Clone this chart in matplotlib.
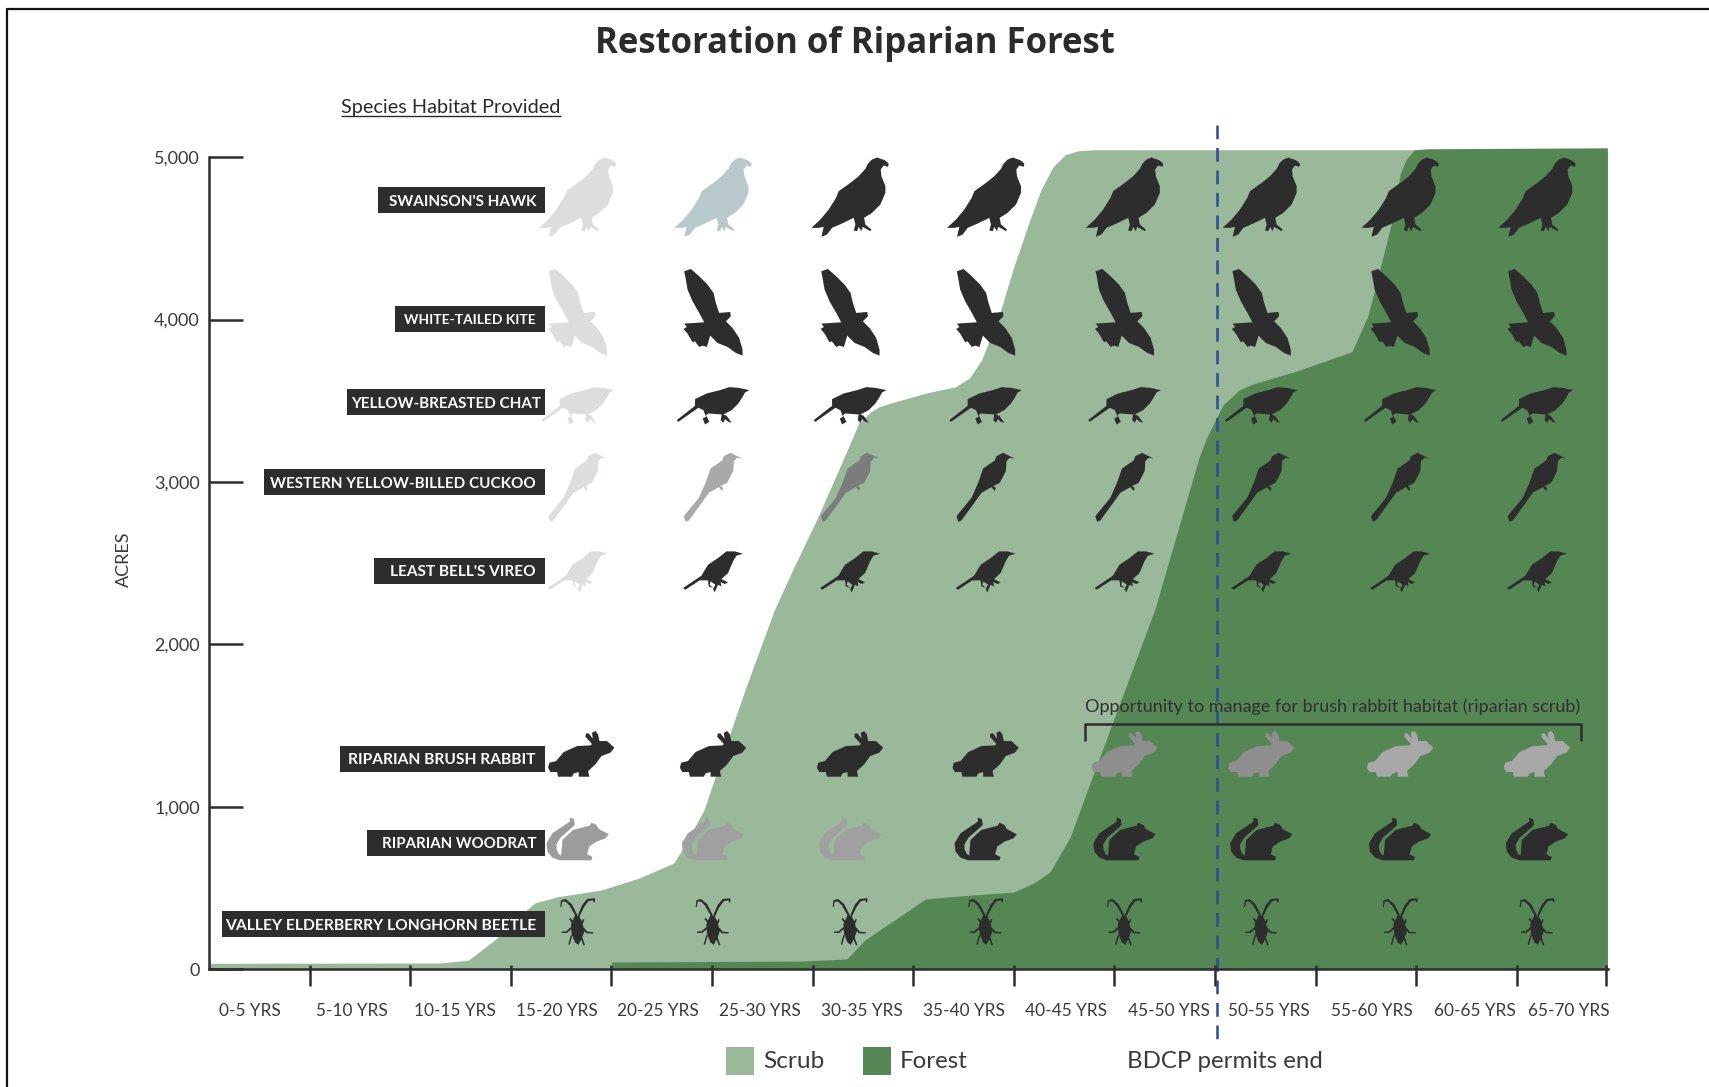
import matplotlib
matplotlib.use('Agg')
import matplotlib.pyplot as plt
import numpy as np
from matplotlib.lines import Line2D
from matplotlib.patches import Rectangle
from matplotlib.path import Path

plt.rcParams['font.family'] = ['Lato', 'DejaVu Sans']

W, H = 1709, 1087
DARK = '#2d2d2d'
TEXT = '#3a3a3a'
LIGHT = '#dcdedd'

# Data, x in years and y in acres
scrub_x = [0, 11.5, 12.9, 14.2, 15.5, 16.2, 17.3, 19.5, 21.4, 23.1, 23.6, 24.6, 25.6, 26.6, 28.1, 29.1, 30.2, 31.4,
           32.3, 32.9, 33.3, 34.1, 35.7, 37.1, 37.8, 38.4, 39.2, 40.0, 40.8, 41.35, 41.95, 42.55, 43.2, 44.0, 69.5]
scrub_y = [35, 37, 55, 179, 333, 407, 444, 487, 561, 653, 752, 980, 1344, 1706, 2212, 2483, 2767, 3105,
           3364, 3432, 3463, 3494, 3549, 3586, 3641, 3752, 4000, 4325, 4615, 4800, 4941, 5015, 5040, 5046, 5046]
forest_x = [20.0, 20.03, 29.5, 31.7, 32.6, 33.4, 34.3, 35.6, 37.3, 40.0, 41.0, 41.8, 42.8, 43.9, 45.7, 47.0, 48.1,
            49.2, 49.6, 50.4, 51.2, 51.9, 54.1, 56.8, 57.6, 58.7, 59.2, 59.5, 59.9, 60.5, 69.5]
forest_y = [0, 43, 49, 62, 179, 246, 320, 431, 450, 474, 530, 598, 813, 1183, 1781, 2212, 2680,
            3149, 3278, 3475, 3567, 3604, 3685, 3802, 4023, 4560, 4898, 4985, 5046, 5052, 5058]

x_ticks = [5, 10, 15, 20, 25, 30, 35, 40, 45, 50, 55, 60, 65, 69.45]
x_label_pos = [2.04, 7.1, 12.2, 17.3, 22.3, 27.4, 32.45, 37.5, 42.6, 47.7, 52.7, 57.8, 62.9, 67.6]
x_labels = ['0-5 YRS', '5-10 YRS', '10-15 YRS', '15-20 YRS', '20-25 YRS', '25-30 YRS', '30-35 YRS', '35-40 YRS',
            '40-45 YRS', '45-50 YRS', '50-55 YRS', '55-60 YRS', '60-65 YRS', '65-70 YRS']
y_ticks = [0, 1000, 2000, 3000, 4000, 5000]
permits_end = 50.1

columns = [18.32, 25.05, 31.86, 38.6, 45.5, 52.3, 59.2, 66.0]
rabbit_columns = [18.5, 25.05, 31.86, 38.6, 45.5, 52.3, 59.2, 66.0]

species = ["SWAINSON'S HAWK", 'WHITE-TAILED KITE', 'YELLOW-BREASTED CHAT', 'WESTERN YELLOW-BILLED CUCKOO',
           "LEAST BELL'S VIREO", 'RIPARIAN BRUSH RABBIT', 'RIPARIAN WOODRAT', 'VALLEY ELDERBERRY LONGHORN BEETLE']
species_y = [4754, 4045, 3469, 2967, 2446, 1325, 801, 290]
species_tones = [
    [LIGHT, '#b9c9cb'] + [DARK] * 6,
    [LIGHT] + [DARK] * 7,
    [LIGHT] + [DARK] * 7,
    [LIGHT, '#a9a9a9', '#7c7c7c'] + [DARK] * 5,
    [LIGHT] + [DARK] * 7,
    [DARK] * 4 + ['#8e8e8e', '#8e8e8e', '#a8a8a8', '#a8a8a8'],
    ['#9c9c9c', '#a0a0a0', '#a0a0a0'] + [DARK] * 5,
    [DARK] * 8,
]

# Label boxes in pixels: left, centre y, right end of the text, font size
box_left = [378, 395, 347, 264, 374, 340, 367, 222]
box_cy = [200, 319, 402, 482, 571, 759, 843, 924]
text_right = [536, 536, 541, 536, 536, 536, 536, 536]
text_size = [11.0, 9.9, 10.9, 11.0, 11.1, 11.2, 10.8, 11.25]

# Icon outlines, traced at 3x with y pointing down
HAWK = [[(248, 52), (250, 42), (238, 32), (215, 24), (200, 30), (188, 42), (180, 58), (160, 80), (135, 100), (100, 125),
         (92, 145), (70, 180), (45, 210), (18, 235), (40, 235), (55, 232), (48, 262), (65, 255), (80, 235), (110, 222),
         (145, 205), (150, 225), (145, 243), (155, 245), (160, 232), (168, 245), (172, 232), (195, 245), (198, 240),
         (180, 225), (176, 205), (200, 190), (225, 165), (240, 130), (240, 110), (228, 80), (226, 60), (235, 48)]]
KITE = [[(40, 35), (60, 28), (85, 50), (110, 75), (128, 100), (135, 130), (145, 160), (178, 157), (180, 170), (165, 185),
         (185, 205), (205, 235), (215, 270), (215, 288), (195, 280), (170, 262), (140, 250), (118, 228), (108, 262),
         (95, 258), (85, 262), (72, 245), (65, 248), (50, 222), (38, 208), (48, 202), (40, 192), (100, 188), (85, 160),
         (65, 125), (50, 90), (44, 55)]]
CHAT = [[(20, 135), (75, 92), (75, 72), (110, 55), (150, 45), (178, 36), (205, 38), (238, 45), (225, 52), (218, 65),
         (205, 85), (185, 105), (160, 118), (170, 122), (185, 143), (175, 140), (165, 132), (160, 143), (152, 135),
         (155, 118), (115, 115), (108, 120), (118, 140), (105, 148), (98, 130), (108, 125), (100, 105), (85, 98),
         (25, 140)]]
CUCKOO = [[(45, 232), (40, 215), (85, 160), (105, 115), (120, 72), (155, 48), (160, 35), (180, 25), (200, 35), (215, 42),
           (200, 40), (190, 50), (188, 80), (170, 115), (150, 125), (158, 130), (155, 140), (145, 128), (115, 145),
           (90, 180), (55, 228)]]
VIREO = [[(35, 145), (90, 108), (110, 75), (140, 55), (165, 35), (190, 35), (215, 42), (195, 48), (185, 65), (170, 100),
          (150, 118), (170, 128), (160, 133), (148, 127), (150, 140), (140, 135), (130, 158), (125, 148), (132, 135),
          (118, 125), (115, 135), (125, 145), (112, 140), (110, 122), (85, 122), (42, 150)]]
RABBIT = [[(62, 125), (85, 98), (125, 80), (165, 78), (170, 74), (150, 52), (152, 42), (160, 42), (172, 58), (170, 40),
           (180, 35), (188, 45), (192, 65), (215, 65), (237, 85), (225, 100), (198, 110), (180, 135), (158, 155),
           (162, 172), (130, 172), (130, 158), (115, 162), (110, 172), (68, 172), (65, 158), (45, 158), (38, 145),
           (42, 130)]]
WOODRAT = [[(100, 38), (112, 42), (115, 60), (95, 78), (72, 98), (60, 118), (60, 132), (66, 146), (74, 152), (78, 105),
            (110, 75), (160, 62), (165, 53), (180, 60), (187, 72), (217, 88), (207, 100), (180, 110), (158, 125),
            (152, 148), (168, 156), (165, 166), (70, 166), (48, 158), (33, 140), (30, 115), (48, 85), (82, 62),
            (100, 50)]]
BEETLE = [[(88, 80), (100, 80), (110, 100), (116, 128), (108, 150), (98, 168), (88, 160), (78, 135), (76, 105)],
          [(90, 82), (72, 50), (60, 38), (50, 38), (47, 55), (44, 54), (46, 34), (60, 30), (78, 45), (95, 78)],
          [(97, 78), (110, 48), (125, 30), (148, 28), (148, 40), (144, 40), (142, 34), (128, 37), (115, 55), (102, 82)],
          [(78, 100), (70, 90), (75, 87), (84, 100)],
          [(108, 100), (112, 90), (116, 92), (112, 104)],
          [(78, 120), (64, 132), (48, 132), (48, 128), (62, 127), (76, 114)],
          [(114, 115), (125, 128), (143, 130), (143, 134), (122, 133), (112, 122)],
          [(80, 140), (72, 168), (68, 166), (76, 138)],
          [(108, 140), (118, 168), (114, 170), (104, 145)]]
icons = [HAWK, KITE, CHAT, CUCKOO, VIREO, RABBIT, WOODRAT, BEETLE]


def icon_marker(parts):
    # returns the marker path and the size scatter needs to keep it at its traced pixel size
    all_pts = np.array([p for part in parts for p in part], dtype=float)
    centre = (all_pts.min(axis=0) + all_pts.max(axis=0)) / 2
    paths = []
    for part in parts:
        pts = (np.array(part, dtype=float) - centre) * [1, -1]
        x, y = pts[:, 0], pts[:, 1]
        if np.dot(x, np.roll(y, -1)) - np.dot(y, np.roll(x, -1)) < 0:
            pts = pts[::-1]
        paths.append(Path(np.vstack([pts, pts[0]]), closed=True))
    reach = np.abs(all_pts - centre).max() / 3
    return Path.make_compound_path(*paths), (2 * reach * 72 / 100) ** 2


def fx(px):
    return px / W


def fy(py):
    return 1 - py / H


def fig_line(fig, xs, ys, lw=1.8, color=DARK):
    fig.add_artist(Line2D([fx(i) for i in xs], [fy(i) for i in ys], color=color, lw=lw, solid_capstyle='butt'))


fig = plt.figure(figsize=(W / 100, H / 100), dpi=100, facecolor='white')
ax = fig.add_axes([fx(209), fy(969), (1608 - 209) / W, 828 / H])
ax.set_xlim(0, 69.53)
ax.set_ylim(0, 5100)
ax.patch.set_visible(False)

ax.fill_between(scrub_x, scrub_y, color='#9ab89a', lw=0, zorder=1)
ax.fill_between(forest_x, forest_y, color='#558755', lw=0, zorder=2)

for k in range(len(species)):
    marker, size = icon_marker(icons[k])
    cols = rabbit_columns if k == 5 else columns
    ax.scatter(cols, [species_y[k]] * 8, marker=marker, s=size, c=species_tones[k], linewidths=0, zorder=3)

# axes
for side in ['top', 'right']:
    ax.spines[side].set_visible(False)
for side in ['left', 'bottom']:
    ax.spines[side].set_linewidth(1.8)
    ax.spines[side].set_color(DARK)
    ax.spines[side].set_zorder(6)
ax.spines['left'].set_bounds(0, 5000)
ax.set_yticks(y_ticks, labels=[f'{v:,}' for v in y_ticks])
ax.tick_params(axis='y', direction='in', length=24.5, width=1.8, color=DARK, pad=6.5, labelsize=13,
               labelcolor=TEXT)
ax.set_xticks(x_ticks, labels=[''] * len(x_ticks))
ax.tick_params(axis='x', which='major', direction='out', length=12, width=1.8, color=DARK)
ax.set_xticks(x_label_pos, labels=x_labels, minor=True)
ax.tick_params(axis='x', which='minor', length=0, pad=24.5, labelsize=12.4, labelcolor=TEXT)
ax.vlines(x_ticks, 0, 25, color=DARK, lw=1.8, zorder=6)
ax.set_ylabel('ACRES', fontsize=13, color=TEXT, va='center')
ax.yaxis.set_label_coords((124 - 209) / 1399, 0.495)

# permit line
ax.plot([permits_end, permits_end], [5200, -480], color='#2b4a9b', lw=1.8, dashes=(5.5, 3.5), clip_on=False, zorder=5)

# species labels
for k in range(len(species)):
    fig.add_artist(Rectangle((fx(box_left[k]), fy(box_cy[k] + 13)), (544.5 - box_left[k]) / W, 26 / H,
                             transform=fig.transFigure, facecolor=DARK, edgecolor='none'))
    fig.text(fx(text_right[k]), fy(box_cy[k]), species[k], color='white', fontsize=text_size[k], fontweight='bold',
             ha='right', va='center_baseline')

# bracket
fig_line(fig, [1085, 1085, 1581, 1581], [741, 724, 724, 741])
fig.text(fx(1332.5), fy(707), 'Opportunity to manage for brush rabbit habitat (riparian scrub)', color='#2f2f2f',
         fontsize=13, ha='center', va='center')

# headings
fig.text(fx(854.5), fy(44), 'Restoration of Riparian Forest', color='#2b2b2b', fontsize=25, fontweight='bold',
         family=['Open Sans', 'DejaVu Sans'], ha='center', va='center')
fig.text(fx(451), fy(107), 'Species Habitat Provided', color='#2b2b2b', fontsize=14.3, ha='center', va='center')
fig_line(fig, [341, 561], [116, 116], lw=1)

# legend
fig.add_artist(Rectangle((fx(726), fy(1075)), 28 / W, 28 / H, transform=fig.transFigure, facecolor='#9ab89a'))
fig.add_artist(Rectangle((fx(863), fy(1075)), 28 / W, 28 / H, transform=fig.transFigure, facecolor='#558755'))
fig.text(fx(763), fy(1061), 'Scrub', color=TEXT, fontsize=17.6, ha='left', va='center')
fig.text(fx(900), fy(1061), 'Forest', color=TEXT, fontsize=17.3, ha='left', va='center')
fig.text(fx(1127), fy(1061), 'BDCP permits end', color=TEXT, fontsize=17.3, ha='left', va='center')

# picture frame, left and top only
fig_line(fig, [7, 7, W], [H, 9, 9], lw=1.6, color='#111111')

fig.savefig('out.png', dpi=100)
